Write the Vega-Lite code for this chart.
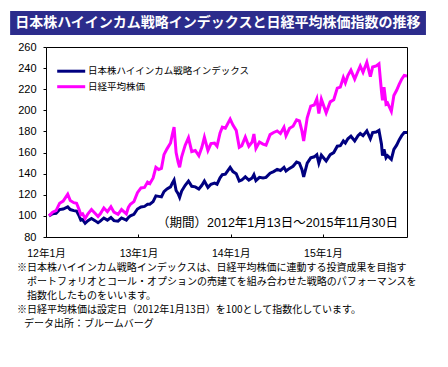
{
  "$schema": "https://vega.github.io/schema/vega-lite/v6.json",
  "padding": {"left": 10, "top": 11, "right": 0, "bottom": 0},
  "width": 361,
  "height": 190,
  "config": {
    "view": {"stroke": "#000000", "strokeWidth": 1},
    "axis": {"labelOverlap": false, "labelFlush": false, "grid": false, "domain": false, "title": null, "labelColor": "#000000", "tickColor": "#000000", "labelFont": "Liberation Sans, Noto Sans CJK JP"},
    "axisX": {"labelFontSize": 10.5, "tickSize": -3, "labelPadding": 14},
    "axisY": {"labelFontSize": 11, "tickSize": 3, "labelPadding": 7, "minExtent": 36, "maxExtent": 36, "tickCount": 10}
  },
  "title": {
    "text": [
      "※日本株ハイインカム戦略インデックスは、日経平均株価に連動する投資成果を目指す",
      "\u200b\u3000ポートフォリオとコール・オプションの売建てを組み合わせた戦略のパフォーマンスを",
      "\u200b\u3000指数化したものをいいます。",
      "※日経平均株価は設定日（2012年1月13日）を100として指数化しています。",
      "\u200b\u2002\u2009データ出所：ブルームバーグ"
    ],
    "orient": "bottom",
    "anchor": "start",
    "frame": "group",
    "dx": -29,
    "offset": 4,
    "fontSize": 10,
    "fontWeight": "normal",
    "font": "Noto Sans CJK JP",
    "lineHeight": 14,
    "color": "#000000"
  },
  "layer": [
    {
      "data": {"values": [{"t": "日本株ハイインカム戦略インデックスと日経平均株価指数の推移"}]},
      "mark": {"type": "rect", "color": "#2c2c8c"},
      "encoding": {
        "x": {"datum": {"year": 2011, "month": 8, "date": 12}, "type": "temporal", "scale": {"domain": [{"year": 2012, "month": 1, "date": 1}, {"year": 2015, "month": 11, "date": 30}]}},
        "x2": {"datum": {"year": 2016, "month": 2, "date": 13}},
        "y": {"datum": 294.1, "type": "quantitative", "scale": {"domain": [80, 260], "nice": false, "zero": false}},
        "y2": {"datum": 271.4}
      }
    },
    {
      "data": {"values": [{"t": "日本株ハイインカム戦略インデックスと日経平均株価指数の推移"}]},
      "mark": {"type": "text", "color": "#ffffff", "fontSize": 14, "fontWeight": "bold", "font": "Noto Sans CJK JP", "align": "center", "baseline": "middle"},
      "encoding": {
        "x": {"datum": {"year": 2013, "month": 11, "date": 11}, "type": "temporal"},
        "y": {"datum": 282.8, "type": "quantitative"},
        "text": {"field": "t"}
      }
    },
    {
      "data": {"values": [
        {"d": "2012-01-13", "n": 100, "h": 100},
        {"d": "2012-01-27", "n": 103.5, "h": 102},
        {"d": "2012-02-10", "n": 105, "h": 102.5},
        {"d": "2012-02-24", "n": 112, "h": 106},
        {"d": "2012-03-09", "n": 114, "h": 106.5},
        {"d": "2012-03-27", "n": 120.6, "h": 108.5},
        {"d": "2012-04-06", "n": 114.5, "h": 106},
        {"d": "2012-04-20", "n": 112.5, "h": 105},
        {"d": "2012-05-01", "n": 112, "h": 104.5},
        {"d": "2012-05-11", "n": 106, "h": 100},
        {"d": "2012-05-18", "n": 101, "h": 96},
        {"d": "2012-05-25", "n": 102, "h": 96.5},
        {"d": "2012-06-04", "n": 97.6, "h": 93},
        {"d": "2012-06-15", "n": 102, "h": 95.5},
        {"d": "2012-06-29", "n": 106, "h": 97.5},
        {"d": "2012-07-13", "n": 102.5, "h": 95.5},
        {"d": "2012-07-25", "n": 99.5, "h": 93.5},
        {"d": "2012-08-03", "n": 102, "h": 95},
        {"d": "2012-08-17", "n": 107.5, "h": 98},
        {"d": "2012-08-31", "n": 104, "h": 96},
        {"d": "2012-09-14", "n": 108.6, "h": 98.5},
        {"d": "2012-09-26", "n": 103.5, "h": 95.5},
        {"d": "2012-10-12", "n": 101.5, "h": 95},
        {"d": "2012-10-26", "n": 106, "h": 98},
        {"d": "2012-11-14", "n": 102, "h": 96},
        {"d": "2012-11-22", "n": 108, "h": 98.5},
        {"d": "2012-11-30", "n": 111, "h": 100},
        {"d": "2012-12-14", "n": 113.5, "h": 101.5},
        {"d": "2012-12-28", "n": 122, "h": 106.5},
        {"d": "2013-01-11", "n": 126.5, "h": 108.5},
        {"d": "2013-01-25", "n": 127, "h": 109},
        {"d": "2013-02-06", "n": 132, "h": 111},
        {"d": "2013-02-15", "n": 130.5, "h": 111},
        {"d": "2013-02-28", "n": 136, "h": 113.5},
        {"d": "2013-03-11", "n": 146, "h": 119},
        {"d": "2013-03-22", "n": 144, "h": 118.5},
        {"d": "2013-04-02", "n": 145, "h": 118},
        {"d": "2013-04-12", "n": 158, "h": 123},
        {"d": "2013-04-24", "n": 163.5, "h": 125.5},
        {"d": "2013-05-08", "n": 169, "h": 127.5},
        {"d": "2013-05-15", "n": 177, "h": 131},
        {"d": "2013-05-22", "n": 184, "h": 134},
        {"d": "2013-05-30", "n": 160, "h": 124},
        {"d": "2013-06-07", "n": 151, "h": 121},
        {"d": "2013-06-13", "n": 146, "h": 117.5},
        {"d": "2013-06-21", "n": 156, "h": 123.5},
        {"d": "2013-07-05", "n": 167, "h": 129},
        {"d": "2013-07-18", "n": 174, "h": 133},
        {"d": "2013-07-31", "n": 161, "h": 128},
        {"d": "2013-08-14", "n": 162, "h": 127.5},
        {"d": "2013-08-28", "n": 157, "h": 125.5},
        {"d": "2013-09-09", "n": 165, "h": 129},
        {"d": "2013-09-19", "n": 174.5, "h": 133},
        {"d": "2013-10-03", "n": 162, "h": 127},
        {"d": "2013-10-15", "n": 168.5, "h": 130},
        {"d": "2013-10-29", "n": 169, "h": 131},
        {"d": "2013-11-08", "n": 166, "h": 130},
        {"d": "2013-11-20", "n": 178.5, "h": 136},
        {"d": "2013-11-29", "n": 184, "h": 139},
        {"d": "2013-12-11", "n": 183, "h": 139.5},
        {"d": "2013-12-30", "n": 191.7, "h": 146},
        {"d": "2014-01-10", "n": 186, "h": 142},
        {"d": "2014-01-23", "n": 181, "h": 140},
        {"d": "2014-02-04", "n": 165, "h": 133},
        {"d": "2014-02-14", "n": 166.5, "h": 134},
        {"d": "2014-02-28", "n": 174.6, "h": 137},
        {"d": "2014-03-14", "n": 166, "h": 134},
        {"d": "2014-03-27", "n": 170, "h": 136},
        {"d": "2014-04-03", "n": 177.5, "h": 139},
        {"d": "2014-04-11", "n": 164, "h": 133.5},
        {"d": "2014-04-25", "n": 170, "h": 136.5},
        {"d": "2014-05-09", "n": 168, "h": 136},
        {"d": "2014-05-21", "n": 167, "h": 136.5},
        {"d": "2014-06-06", "n": 177, "h": 140.5},
        {"d": "2014-06-20", "n": 179, "h": 142},
        {"d": "2014-07-04", "n": 180.5, "h": 144},
        {"d": "2014-07-17", "n": 178, "h": 143},
        {"d": "2014-07-31", "n": 184, "h": 146},
        {"d": "2014-08-08", "n": 176, "h": 142.5},
        {"d": "2014-08-22", "n": 183, "h": 145},
        {"d": "2014-09-05", "n": 185, "h": 147},
        {"d": "2014-09-19", "n": 191, "h": 151},
        {"d": "2014-09-30", "n": 190, "h": 150},
        {"d": "2014-10-10", "n": 180.5, "h": 144},
        {"d": "2014-10-17", "n": 171, "h": 137},
        {"d": "2014-10-31", "n": 193, "h": 150},
        {"d": "2014-11-14", "n": 204, "h": 155},
        {"d": "2014-11-28", "n": 205, "h": 156},
        {"d": "2014-12-08", "n": 211, "h": 158},
        {"d": "2014-12-16", "n": 197, "h": 150},
        {"d": "2014-12-26", "n": 210.5, "h": 157.5},
        {"d": "2015-01-14", "n": 197.6, "h": 152},
        {"d": "2015-01-30", "n": 208, "h": 158},
        {"d": "2015-02-13", "n": 210, "h": 160},
        {"d": "2015-02-27", "n": 221, "h": 166},
        {"d": "2015-03-11", "n": 222, "h": 166.5},
        {"d": "2015-03-23", "n": 231, "h": 171},
        {"d": "2015-03-31", "n": 226, "h": 169},
        {"d": "2015-04-10", "n": 233, "h": 173},
        {"d": "2015-04-22", "n": 238, "h": 175.5},
        {"d": "2015-05-07", "n": 229.5, "h": 171},
        {"d": "2015-05-20", "n": 237, "h": 176},
        {"d": "2015-05-29", "n": 242, "h": 178},
        {"d": "2015-06-09", "n": 236, "h": 176},
        {"d": "2015-06-24", "n": 245.5, "h": 180.5},
        {"d": "2015-07-08", "n": 232, "h": 173},
        {"d": "2015-07-17", "n": 241, "h": 179},
        {"d": "2015-07-31", "n": 242, "h": 179.5},
        {"d": "2015-08-11", "n": 244, "h": 181},
        {"d": "2015-08-21", "n": 218, "h": 168},
        {"d": "2015-08-25", "n": 209.5, "h": 157},
        {"d": "2015-08-31", "n": 222, "h": 163},
        {"d": "2015-09-08", "n": 206, "h": 155},
        {"d": "2015-09-14", "n": 207, "h": 157},
        {"d": "2015-09-29", "n": 199, "h": 153.5},
        {"d": "2015-10-09", "n": 214, "h": 163},
        {"d": "2015-10-20", "n": 219, "h": 167},
        {"d": "2015-10-30", "n": 224.5, "h": 172},
        {"d": "2015-11-09", "n": 229.5, "h": 176},
        {"d": "2015-11-19", "n": 233, "h": 179},
        {"d": "2015-11-30", "n": 232.5, "h": 179}
      ]},
      "transform": [{"fold": ["h", "n"], "as": ["series", "value"]}],
      "mark": {"type": "line", "strokeWidth": 3, "clip": true},
      "encoding": {
        "x": {
          "field": "d", "type": "temporal",
          "axis": {
            "values": [{"year": 2012, "month": 1, "date": 1}, {"year": 2013, "month": 1, "date": 1}, {"year": 2014, "month": 1, "date": 1}, {"year": 2015, "month": 1, "date": 1}],
            "format": "%y年%-m月"
          }
        },
        "y": {
          "field": "value", "type": "quantitative",
          "axis": {"values": [80, 100, 120, 140, 160, 180, 200, 220, 240, 260]}
        },
        "color": {
          "field": "series", "type": "nominal",
          "scale": {"domain": ["h", "n"], "range": ["#000080", "#ff00ff"]},
          "legend": {
            "orient": "none",
            "legendX": 16.7,
            "legendY": 15.7,
            "padding": 0,
            "title": null,
            "symbolType": "M-2,0H2",
            "symbolSize": 196,
            "symbolStrokeWidth": 3,
            "labelFontSize": 9.5,
            "labelFont": "Noto Sans CJK JP",
            "labelColor": "#000000",
            "labelLimit": 300,
            "labelOffset": 8.3,
            "rowPadding": 0.5,
            "labelExpr": "datum.label == 'h' ? '日本株ハイインカム戦略インデックス' : '日経平均株価'"
          }
        }
      }
    },
    {
      "data": {"values": [{"t": "（期間）2012年1月13日～2015年11月30日"}]},
      "mark": {"type": "text", "align": "right", "baseline": "middle", "fontSize": 12.5, "font": "Liberation Sans, Noto Sans CJK JP", "color": "#000000"},
      "encoding": {
        "x": {"datum": {"year": 2015, "month": 10, "date": 25}, "type": "temporal"},
        "y": {"datum": 93.3, "type": "quantitative"},
        "text": {"field": "t"}
      }
    }
  ]
}
